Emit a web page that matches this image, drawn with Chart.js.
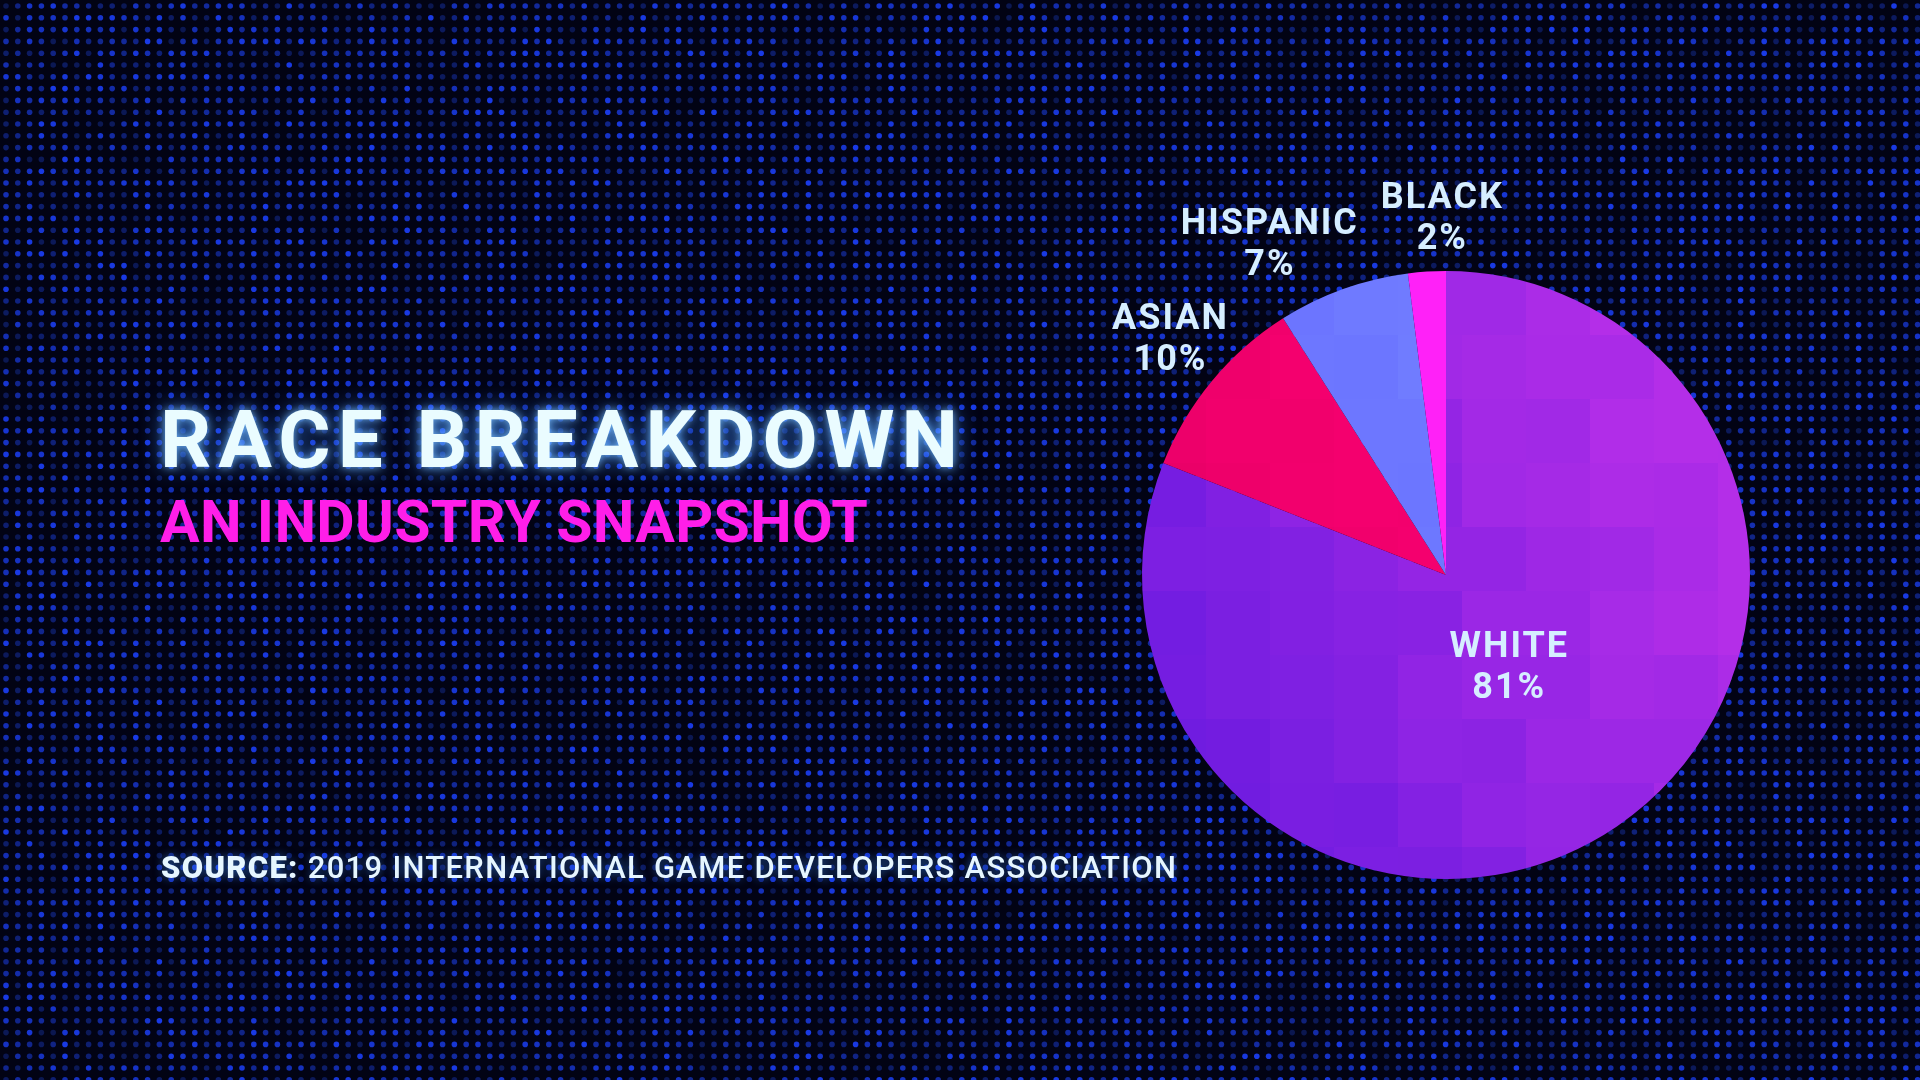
<!DOCTYPE html>
<html>
<head>
<meta charset="utf-8">
<title>Race Breakdown</title>
<script src="https://cdn.jsdelivr.net/npm/chart.js@4.4.1/dist/chart.umd.min.js"></script>
<style>
  html, body { margin: 0; padding: 0; width: 1920px; height: 1080px; overflow: hidden; background: #020314; }
  body { font-family: Roboto, "DejaVu Sans", sans-serif; }
  #dots, #pie { position: absolute; left: 0; top: 0; }
  .title {
    position: absolute; left: 160px; top: 400px; margin: 0;
    font-size: 80px; line-height: 80px; font-weight: 700; letter-spacing: 7px;
    color: #eafcff;
    text-shadow: 0 0 8px rgba(120, 190, 255, 0.9), 0 0 24px rgba(60, 140, 255, 0.8);
  }
  .subtitle {
    position: absolute; left: 160px; top: 492px; margin: 0;
    font-size: 59px; line-height: 59px; font-weight: 700; letter-spacing: 0.3px;
    color: #ff1ee8;
  }
  .source {
    position: absolute; left: 161px; top: 852px; margin: 0;
    font-size: 31px; line-height: 31px; font-weight: 500; letter-spacing: 1.3px;
    color: #e6f6ff;
    text-shadow: 0 0 10px rgba(60, 140, 255, 0.6);
  }
  .source b { font-weight: 900; }
</style>
</head>
<body>
<canvas id="dots" width="1920" height="1080"></canvas>
<h1 class="title">RACE BREAKDOWN</h1>
<h2 class="subtitle">AN INDUSTRY SNAPSHOT</h2>
<p class="source"><b>SOURCE:</b> 2019 INTERNATIONAL GAME DEVELOPERS ASSOCIATION</p>
<canvas id="pie" width="1920" height="1080"></canvas>
<script>
// Data
const categories = ['WHITE', 'ASIAN', 'HISPANIC', 'BLACK'];
const shares = [81, 10, 7, 2];

// Slice colours: [dark tone, light tone]
const sliceTones = [
    ['#4c12dc', '#b42ee8'],
    ['#dc0060', '#ff0074'],
    ['#5e60ff', '#7482ff'],
    ['#ff1ef6', '#ff22f8']
];

function hash(i, j) {
    const n = Math.sin(i * 127.1 + j * 311.7) * 43758.5453;
    return n - Math.floor(n);
}

function mix(a, b, t) {
    const pa = [1, 3, 5].map(k => parseInt(a.substr(k, 2), 16));
    const pb = [1, 3, 5].map(k => parseInt(b.substr(k, 2), 16));
    return 'rgb(' + pa.map((v, k) => Math.round(v + (pb[k] - v) * t)).join(',') + ')';
}

// Dotted backdrop
const dctx = document.getElementById('dots').getContext('2d');
for (let j = 0; j < 92; j++) {
    for (let i = 0; i < 164; i++) {
        const b = 0.3 + 0.7 * hash(i, j);
        dctx.fillStyle = 'rgb(' + Math.round(20 * b + 5) + ',' + Math.round(50 * b + 8) + ',' + Math.round(215 * b + 15) + ')';
        dctx.beginPath();
        dctx.arc(i * 11.8 + 6, j * 11.8 + 6, 2.8, 0, Math.PI * 2);
        dctx.fill();
    }
}

// Blocky mosaic fill for the slices
const patternCache = {};
function mosaic(chart, index) {
    if (patternCache[index]) return patternCache[index];
    const area = chart.chartArea;
    const cx = (area.left + area.right) / 2;
    const cy = (area.top + area.bottom) / 2;
    const r = Math.min(area.width, area.height) / 2;
    const off = document.createElement('canvas');
    off.width = chart.width;
    off.height = chart.height;
    const octx = off.getContext('2d');
    const size = 64;
    const tones = sliceTones[index];
    for (let y = area.top - size; y < area.bottom + size; y += size) {
        for (let x = area.left - size; x < area.right + size; x += size) {
            const u = ((x + size / 2 - cx) / r) * 0.6 - ((y + size / 2 - cy) / r) * 0.3;
            let t = 0.68 + 0.5 * u + (hash(x, y) - 0.5) * 0.12;
            t = Math.max(0, Math.min(1, t));
            octx.fillStyle = mix(tones[0], tones[1], t);
            octx.fillRect(x, y, size, size);
        }
    }
    patternCache[index] = chart.ctx.createPattern(off, 'no-repeat');
    return patternCache[index];
}

// Category name + share drawn next to each slice
const sliceLabels = {
    id: 'sliceLabels',
    afterDatasetsDraw(chart, args, opts) {
        const ctx = chart.ctx;
        const meta = chart.getDatasetMeta(0);
        ctx.save();
        ctx.font = opts.font;
        ctx.letterSpacing = opts.spacing;
        ctx.fillStyle = opts.color;
        ctx.textAlign = 'center';
        ctx.textBaseline = 'middle';
        meta.data.forEach((arc, i) => {
            const p = arc.getProps(['x', 'y', 'startAngle', 'endAngle', 'outerRadius'], true);
            const mid = (p.startAngle + p.endAngle) / 2 + opts.shift[i] * Math.PI / 180;
            const dist = p.outerRadius * opts.radius[i];
            const x = p.x + Math.cos(mid) * dist;
            const y = p.y + Math.sin(mid) * dist;
            ctx.fillText(chart.data.labels[i], x, y - opts.gap / 2);
            ctx.fillText(chart.data.datasets[0].data[i] + '%', x, y + opts.gap / 2);
        });
        ctx.restore();
    }
};

const pieCtx = document.getElementById('pie').getContext('2d');
new Chart(pieCtx, {
    type: 'pie',
    data: {
        labels: categories,
        datasets: [{
            data: shares,
            backgroundColor: (c) => c.chart.chartArea ? mosaic(c.chart, c.dataIndex) : sliceTones[c.dataIndex][1],
            borderWidth: 0
        }]
    },
    options: {
        responsive: false,
        animation: false,
        layout: { padding: { left: 1142, right: 170, top: 271, bottom: 201 } },
        plugins: {
            legend: { display: false },
            tooltip: { enabled: false },
            sliceLabels: {
                font: '700 36px Roboto, "DejaVu Sans", sans-serif',
                spacing: '2px',
                color: '#d6eeff',
                gap: 41,
                radius: [0.37, 1.19, 1.23, 1.17],
                shift: [0, 0.8, -8.3, 3]
            }
        }
    },
    plugins: [sliceLabels]
});
</script>
</body>
</html>
